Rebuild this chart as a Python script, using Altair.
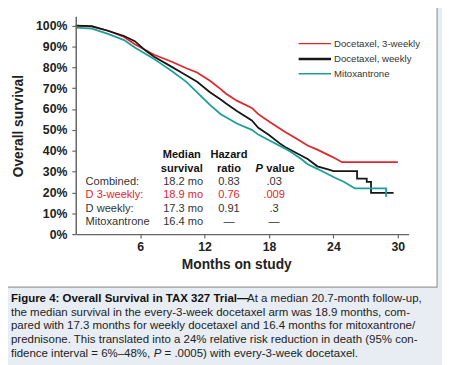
import altair as alt
import pandas as pd

# ---------------- data ----------------
series_names = ["Docetaxel, 3-weekly", "Docetaxel, weekly", "Mitoxantrone"]
series_colors = ["#e4262c", "#161616", "#1a9f97"]

red_months = [0, 1.5, 3, 4.5, 5.5, 7.3, 9, 10.3, 11.3, 12.5, 13.5, 14, 15, 16.4, 17, 18,
              19.5, 20.5, 21.6, 22.5, 23.5, 24.1, 24.8, 30]
red_surv = [100, 99.5, 97.5, 94.5, 91, 86, 82.5, 79.5, 77.5, 73.5, 69.5, 67.3, 64, 60.5, 57.5, 54,
            49, 46, 42.5, 40.5, 38, 36.5, 34.5, 34.5]

black_months = [0, 1.5, 3, 4.5, 5.5, 6.5, 7.3, 8.5, 10, 11.3, 12.5, 13.5, 14, 15, 16.4, 17, 18,
                19, 19.5, 20.5, 21.6, 22.5, 23.5, 24, 26.2, 26.2, 27.1, 27.1, 27.5, 27.5, 29.6]
black_surv = [100, 99.7, 97.5, 95, 92.5, 88, 85, 81.5, 77, 73, 68, 64.5, 62.6, 59, 54.5, 51, 47.5,
              43.5, 41.8, 39, 36, 32.5, 31, 30.2, 30.2, 26.6, 26.6, 25, 25, 19.8, 19.8]

teal_months = [0, 1.5, 3, 4.5, 5.5, 7.3, 8, 9, 10.3, 11.3, 12.5, 13.5, 14, 15, 16.4, 17, 18,
               19.5, 20, 21, 21.6, 22.5, 24, 25, 26, 28.9, 28.9, 29]
teal_surv = [99, 98.5, 96, 93, 89.5, 84, 81.5, 78, 73, 68, 62, 57.5, 56, 53, 50, 47.7, 45,
             41, 39.5, 36, 33.5, 31.3, 27.4, 25, 21.9, 21.9, 18.3, 18.3]

x_ticks = [6, 12, 18, 24, 30]
y_ticks = [0, 10, 20, 30, 40, 50, 60, 70, 80, 90, 100]

table_header1 = ["Median", "Hazard"]
table_header2 = ["survival", "ratio"]
table_rows = ["Combined:", "D 3-weekly:", "D weekly:", "Mitoxantrone"]
table_median = ["18.2 mo", "18.9 mo", "17.3 mo", "16.4 mo"]
table_hazard = ["0.83", "0.76", "0.91", "\u2014"]
table_p = [".03", ".009", ".3", "\u2014"]

caption_bold = "Figure 4: Overall Survival in TAX 327 Trial\u2014"
caption_lines = [
    "At a median 20.7-month follow-up,",
    "the median survival in the every-3-week docetaxel arm was 18.9 months, com-",
    "pared with 17.3 months for weekly docetaxel and 16.4 months for mitoxantrone/",
    "prednisone. This translated into a 24% relative risk reduction in death (95% con-",
]
caption_last = ["fidence interval = 6%\u201348%,", "P", "= .0005) with every-3-week docetaxel."]

# ---------------- build table ----------------
rows = []
for name, ms, ss in [(series_names[0], red_months, red_surv),
                     (series_names[1], black_months, black_surv),
                     (series_names[2], teal_months, teal_surv)]:
    for i, (m, s) in enumerate(zip(ms, ss)):
        rows.append({"series": name, "month": m, "surv": s, "idx": i})
df = pd.DataFrame(rows)

FONT = "Liberation Sans"
BG = "#e8edf4"
one = pd.DataFrame({"a": [0]})

W, H = 339, 222  # plot area

def txt(t, x, y, size=11.3, weight="normal", color="#222", align="left", style="normal", angle=0):
    kw = dict(text=t, font=FONT, fontSize=size, fontWeight=weight, color=color,
              align=align, baseline="middle", fontStyle=style)
    if angle:
        kw["angle"] = angle
    return alt.Chart(one).mark_text(**kw).encode(x=alt.value(x), y=alt.value(y))

panel = alt.Chart(one).mark_rect(fill="white", stroke="#9a9a9a", strokeWidth=1.2).encode(
    x=alt.value(-90), x2=alt.value(368), y=alt.value(-30), y2=alt.value(276))

axis_common = dict(title=None, grid=False, labelFontSize=12.5, labelFontWeight="bold",
                   labelFont=FONT, labelColor="#222", tickSize=4, domainColor="#666",
                   tickColor="#666", domainWidth=1.5, tickWidth=1.2, zindex=2)

lines = alt.Chart(df).mark_line(strokeWidth=1.8).encode(
    x=alt.X("month:Q", scale=alt.Scale(domain=[0, 31], nice=False, zero=False),
            axis=alt.Axis(values=x_ticks, labelPadding=3, **axis_common)),
    y=alt.Y("surv:Q", scale=alt.Scale(domain=[0, 104.5], nice=False),
            axis=alt.Axis(values=y_ticks, labelExpr="datum.value + '%'", labelPadding=5,
                          **axis_common)),
    color=alt.Color("series:N", scale=alt.Scale(domain=series_names, range=series_colors),
                    legend=None),
    order="idx:Q",
)

layers = [panel, lines]

# legend
leg_y = [28, 43.7, 58.7]
leg_w = [1.4, 2.4, 1.6]
for name, col, yy, sw in zip(series_names, series_colors, leg_y, leg_w):
    layers.append(alt.Chart(one).mark_rule(color=col, strokeWidth=sw).encode(
        x=alt.value(227), x2=alt.value(260), y=alt.value(yy)))
    layers.append(txt(name, 263, yy, size=9.8, color="#333"))

# table
layers.append(txt(table_header1[0], 108, 141.3, weight="bold", align="center", color="#111"))
layers.append(txt(table_header2[0], 108, 155.3, weight="bold", align="center", color="#111"))
layers.append(txt(table_header1[1], 156, 141.3, weight="bold", align="center", color="#111"))
layers.append(txt(table_header2[1], 156, 155.3, weight="bold", align="center", color="#111"))
layers.append(txt("P", 183, 155.3, weight="bold", style="italic", color="#111"))
layers.append(txt("value", 194, 155.3, weight="bold", color="#111"))
row_y = [168.7, 182, 196, 209.3]
for i, yy in enumerate(row_y):
    col = "#e4262c" if i == 1 else "#333"
    layers.append(txt(table_rows[i], 10, yy, color=col))
    layers.append(txt(table_median[i], 89, yy, color=col))
    layers.append(txt(table_hazard[i], 156, yy, color=col, align="center"))
    layers.append(txt(table_p[i], 202, yy, color=col, align="center"))

# axis titles
layers.append(txt("Overall survival", -58, 112, size=14, weight="bold", color="#222",
                  align="center", angle=270))
layers.append(txt("Months on study", 164, 254, size=14, weight="bold", color="#222",
                  align="center"))

# caption
CS = 11.7
cx = -66
cy = [287, 301, 315, 329, 343]
layers.append(txt(caption_bold, cx, cy[0], size=CS, weight="bold", color="#111"))
layers.append(txt(caption_lines[0], cx + 20.55 * CS, cy[0], size=CS, color="#222"))
for i in range(1, 4):
    layers.append(txt(caption_lines[i], cx, cy[i], size=CS, color="#222"))
w1 = 12.423 * CS
layers.append(txt(caption_last[0], cx, cy[4], size=CS, color="#222"))
layers.append(txt(caption_last[1], cx + w1, cy[4], size=CS, color="#222", style="italic"))
layers.append(txt(caption_last[2], cx + w1 + (0.667 + 0.278) * CS, cy[4], size=CS, color="#222"))

chart = alt.layer(*layers).properties(
    width=W, height=H,
    background=BG,
    padding={"left": 69, "top": 5, "right": 442 - 69 - W, "bottom": 357 - 5 - H},
    autosize=alt.AutoSizeParams(type="none"),
).configure_view(stroke=None)

chart.save("out.html", embed_options={"renderer": "svg", "actions": False})
